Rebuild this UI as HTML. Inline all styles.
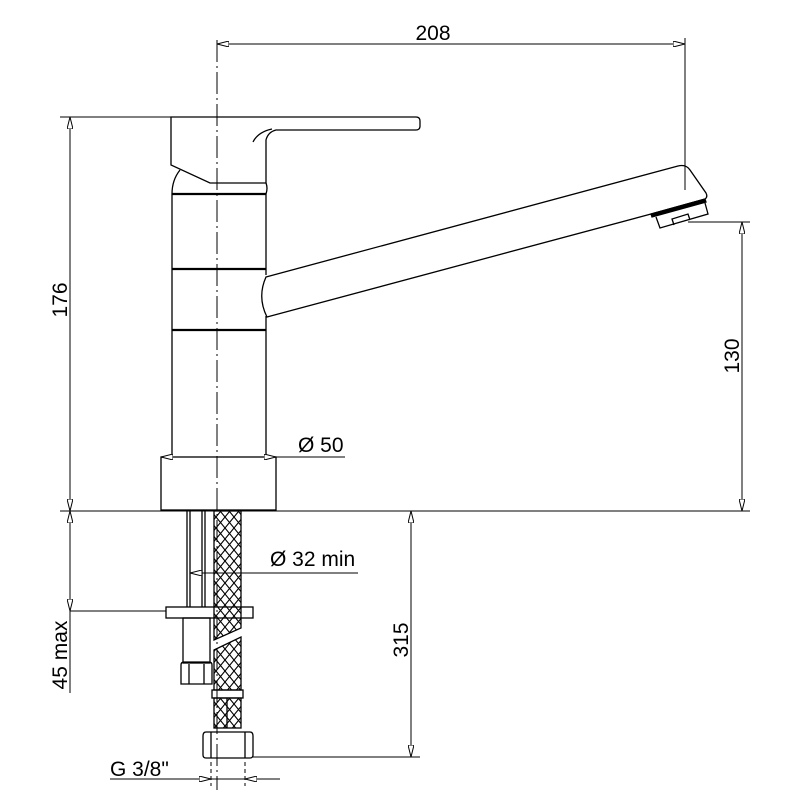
<!DOCTYPE html>
<html><head><style>body{margin:0;background:#fff}svg{display:block}</style></head><body>
<svg width="796" height="796" viewBox="0 0 796 796" xmlns="http://www.w3.org/2000/svg" font-family="Liberation Sans, sans-serif" fill="none" stroke="#000" stroke-width="1.3">
<defs>
<marker id="a" viewBox="0 0 12 6" refX="12" refY="3" markerWidth="12" markerHeight="6" orient="auto-start-reverse" markerUnits="userSpaceOnUse"><path d="M0,0 L12,3 L0,6 Z" fill="#fff" stroke="#000" stroke-width="1"/></marker>
<pattern id="mesh" width="9" height="11" patternUnits="userSpaceOnUse"><path d="M0,0 L9,11 M9,0 L0,11" stroke="#000" stroke-width="1.1"/></pattern>
</defs>
<line x1="217" y1="40" x2="217" y2="790" stroke-dasharray="22,4,2,4" stroke-width="1"/>
<line x1="217" y1="44" x2="685" y2="44" marker-start="url(#a)" marker-end="url(#a)" stroke-width="1"/>
<line x1="685" y1="38" x2="685" y2="190" stroke-width="1"/>
<text x="433" y="40" font-size="21" fill="#000" stroke="none" text-anchor="middle">208</text>
<line x1="60" y1="117" x2="171" y2="117" stroke-width="1"/>
<line x1="70" y1="117" x2="70" y2="511" marker-start="url(#a)" marker-end="url(#a)" stroke-width="1"/>
<text x="0" y="0" font-size="21" fill="#000" stroke="none" text-anchor="middle" transform="translate(67,300) rotate(-90)">176</text>
<path d="M171,117 H416 Q420,117 420,121 V126 Q420,130 416,130 H276 Q268,132 266,140 V183 H210 L171,165 Z"/>
<path d="M253,142 Q258,132 272,129"/>
<path d="M180,170 Q172,180 172,194 V460 M266,183 Q268,188 266,194 M266,194 V275 M266,316 V460"/>
<line x1="172" y1="194" x2="266" y2="194" stroke-width="2.3"/>
<line x1="172" y1="269" x2="266" y2="269" stroke-width="2.3"/>
<line x1="172" y1="330" x2="266" y2="330" stroke-width="2.3"/>
<path d="M266,277 L678,166 Q686,164 690,170 L706,193 Q708,197 705,199 L651,214 L267,317 Q257,297 266,277 Z"/>
<path d="M651,214 L705,199 L706,202 L652,217 Z" fill="#000"/>
<path d="M656,217 L660,228 L708,214 L705,203 M674,225 L672,219 L688,214 L690,220"/>
<line x1="688" y1="222" x2="750" y2="222" stroke-width="1"/>
<line x1="742" y1="222" x2="742" y2="511" marker-start="url(#a)" marker-end="url(#a)" stroke-width="1"/>
<text x="0" y="0" font-size="21" fill="#000" stroke="none" text-anchor="middle" transform="translate(739,356) rotate(-90)">130</text>
<rect x="161" y="457" width="115" height="53"/>
<line x1="161" y1="457" x2="345" y2="457" marker-start="url(#a)" stroke-width="1"/>
<line x1="276" y1="457" x2="276" y2="457" marker-end="url(#a)"/>
<text x="298" y="452" font-size="21" fill="#000" stroke="none">Ø 50</text>
<line x1="60" y1="511" x2="750" y2="511" stroke-width="1"/>
<path d="M187,511 V607 M190,511 V607 M202,511 V607 M205,511 V607"/>
<path d="M214,511 H241 V628 L214,640 Z" fill="url(#mesh)"/>
<path d="M214,650 L241,637 V690 H214 Z" fill="url(#mesh)"/>
<line x1="190" y1="573" x2="358" y2="573" marker-start="url(#a)" stroke-width="1"/>
<text x="270" y="566" font-size="21" fill="#000" stroke="none">Ø 32  min</text>
<rect x="166" y="607" width="87" height="11"/>
<line x1="70" y1="611" x2="166" y2="611" stroke-width="1"/>
<line x1="70" y1="511" x2="70" y2="611" marker-start="url(#a)" marker-end="url(#a)" stroke-width="1"/>
<line x1="70" y1="611" x2="70" y2="693" stroke-width="1"/>
<text x="0" y="0" font-size="21" fill="#000" stroke="none" text-anchor="middle" transform="translate(67,655) rotate(-90)">45 max</text>
<rect x="183" y="618" width="27" height="45"/>
<path d="M181,665 Q181,662 184,662 H209 Q212,662 212,665 V684 H181 Z M189,664 V684 M204,664 V684"/>
<rect x="212" y="690" width="31" height="8"/>
<rect x="214" y="698" width="27" height="30" fill="url(#mesh)"/>
<line x1="227" y1="698" x2="227" y2="728"/>
<path d="M206,732 H250 Q253,732 253,736 V755 Q253,758 250,758 H206 Q203,758 203,755 V736 Q203,732 206,732 Z M211,732 V758 M245,732 V758"/>
<line x1="253" y1="757" x2="420" y2="757" stroke-width="1"/>
<line x1="411" y1="511" x2="411" y2="757" marker-start="url(#a)" marker-end="url(#a)" stroke-width="1"/>
<text x="0" y="0" font-size="21" fill="#000" stroke="none" text-anchor="middle" transform="translate(408,640) rotate(-90)">315</text>
<text x="110" y="776" font-size="21" fill="#000" stroke="none">G  3/8"</text>
<line x1="110" y1="779" x2="280" y2="779" stroke-width="1"/>
<line x1="192" y1="779" x2="211" y2="779" marker-end="url(#a)" stroke-width="1"/>
<line x1="264" y1="779" x2="245" y2="779" marker-end="url(#a)" stroke-width="1"/>
<line x1="211" y1="762" x2="211" y2="786" stroke-width="1" stroke-dasharray="4,3"/>
<line x1="245" y1="762" x2="245" y2="786" stroke-width="1" stroke-dasharray="4,3"/>
</svg>
</body></html>
